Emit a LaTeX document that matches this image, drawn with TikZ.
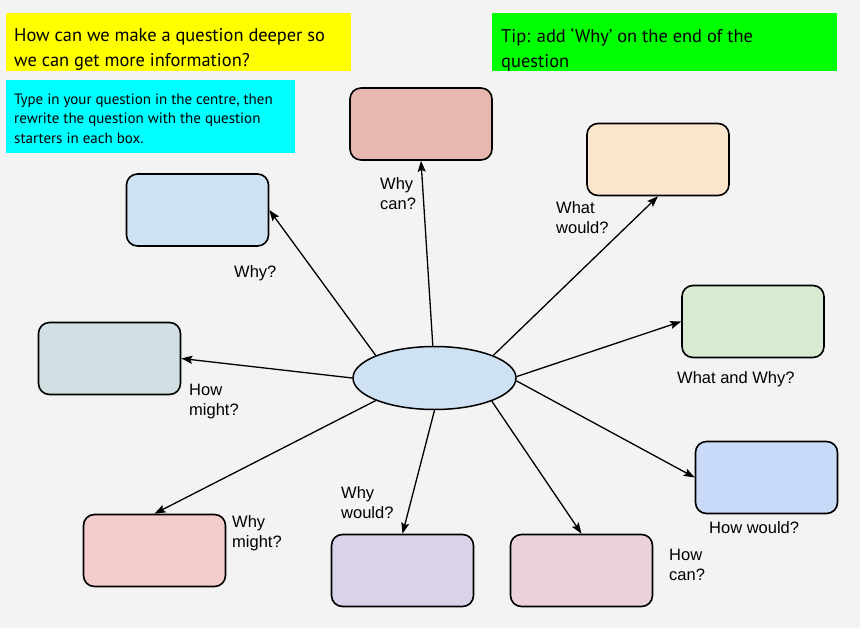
\documentclass[tikz,border=0pt]{standalone}
\usepackage{fontspec}
\setmainfont{Liberation Sans}
\newfontfamily\handfont{PT Sans}
\usetikzlibrary{arrows.meta, shapes.geometric}

\definecolor{bgcol}{HTML}{F3F3F3}
\definecolor{noteyellow}{HTML}{FFFF00}
\definecolor{notecyan}{HTML}{00FFFF}
\definecolor{notegreen}{HTML}{00FF00}
\definecolor{qcentre}{HTML}{CFE2F3}
\definecolor{qbrown}{HTML}{E6B8AF}
\definecolor{qpeach}{HTML}{FCE5CD}
\definecolor{qblue}{HTML}{CFE2F3}
\definecolor{qgreen}{HTML}{D9EAD3}
\definecolor{qgrey}{HTML}{D0E0E3}
\definecolor{qcorn}{HTML}{C9DAF8}
\definecolor{qpink}{HTML}{F4CCCC}
\definecolor{qlilac}{HTML}{D9D2E9}
\definecolor{qrose}{HTML}{EAD1DC}

\begin{document}
\begin{tikzpicture}[x=1pt, y=-1pt,
  qbox/.style={draw, line width=1.6pt, rounded corners=11pt,
    minimum width=142pt, minimum height=72pt, inner sep=0pt},
  link/.style={line width=1.3pt, -{Stealth[length=11pt,width=8pt,inset=2pt]}},
  lab/.style={anchor=north west, inner sep=0pt, align=left,
    font=\fontsize{16.5}{20}\selectfont},
  hand/.style={anchor=north west, inner sep=0pt, align=left}]
  % fond
  \useasboundingbox (0,0) rectangle (860,628);
  \fill[bgcol] (0,0) rectangle (860,628);
  % ---- notes en haut ----
  \fill[noteyellow] (6,13) rectangle (351,71);
  \fill[notecyan] (6,80) rectangle (295,153);
  \fill[notegreen] (492,13) rectangle (837,71);
  \node[hand, font=\handfont\fontsize{18.4}{25}\selectfont] (askA) at (14,28)
    {How can we make a question deeper so\\we can get more information?};
  \node[hand, font=\handfont\fontsize{15}{19.5}\selectfont] (askB) at (14,93.5)
    {Type in your question in the centre, then\\rewrite the question with the question\\starters in each box.};
  \node[hand, font=\handfont\fontsize{18.4}{25}\selectfont] (tip) at (501,27.5)
    {Tip: add ‘Why’ on the end of the\\question};
  % ---- question au centre ----
  \node[ellipse, draw, line width=1.5pt, fill=qcentre, minimum width=163pt,
    minimum height=63pt, inner sep=0pt] (q) at (434.5,378) {};
  % ---- boites ----
  \node[qbox, fill=qbrown] (tc) at (421,124) {};
  \node[qbox, fill=qpeach] (tr) at (658,159.5) {};
  \node[qbox, fill=qblue]  (lu) at (197.5,210) {};
  \node[qbox, fill=qgreen] (rm) at (753,321.5) {};
  \node[qbox, fill=qgrey]  (lm) at (109.5,358.5) {};
  \node[qbox, fill=qcorn]  (rl) at (766.5,477.5) {};
  \node[qbox, fill=qpink]  (bl) at (154.5,550.5) {};
  \node[qbox, fill=qlilac] (bc) at (402.5,570.5) {};
  \node[qbox, fill=qrose]  (br) at (581.5,570.5) {};
  % ---- fleches ----
  \draw[link] (q.93) -- (tc.south);
  \draw[link] (q.21) -- (tr.south);
  \draw[link] (q.159) -- (lu.east);
  \draw[link] (q.1) -- (rm.west);
  \draw[link] (q.180) -- (lm.east);
  \draw[link] (q.-2) -- (rl.west);
  \draw[link] (q.201) -- (bl.north);
  \draw[link] (q.270) -- (bc.north);
  \draw[link] (q.-22) -- (br.north);
  % ---- etiquettes ----
  \node[lab] (whycan) at (380,177) {Why\\can?};
  \node[lab] (whatwould) at (556,201.5) {What\\would?};
  \node[lab] (why) at (234,265) {Why?};
  \node[lab] (howmight) at (189,384) {How\\might?};
  \node[lab] (whatwhy) at (677,371) {What and Why?};
  \node[lab] (howwould) at (709,521.5) {How would?};
  \node[lab] (whymight) at (232,515) {Why\\might?};
  \node[lab] (whywould) at (341,486.5) {Why\\would?};
  \node[lab] (howcan) at (669,549) {How\\can?};
\end{tikzpicture}
\end{document}
